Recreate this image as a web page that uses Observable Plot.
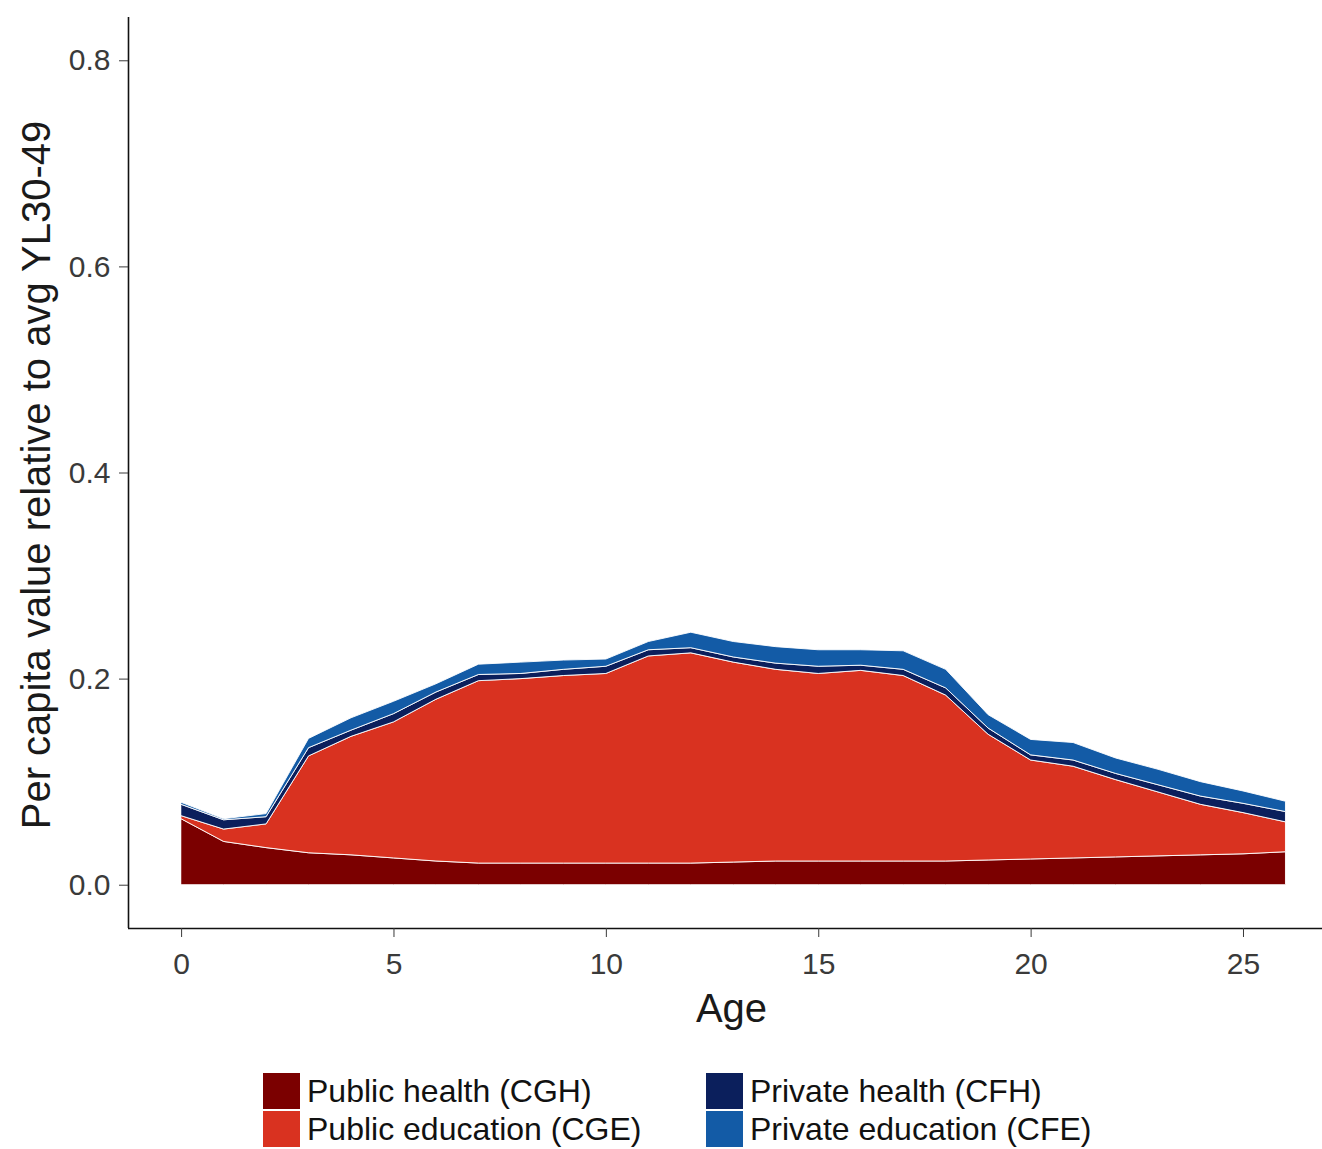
<!DOCTYPE html>
<html>
<head>
<meta charset="utf-8">
<script src="https://cdn.jsdelivr.net/npm/d3@7"></script>
<script src="https://cdn.jsdelivr.net/npm/@observablehq/plot@0.6"></script>
<style>
  html, body { margin: 0; padding: 0; background: #fff; }
  body { width: 1322px; height: 1149px; position: relative; font-family: "Liberation Sans", Arial, sans-serif; }
  #legend { position: absolute; left: 263px; top: 1073px; display: grid; grid-template-columns: 443px auto; row-gap: 2px; }
  .item { display: flex; align-items: center; height: 36px; font-size: 32px; color: #111; }
  .sw { width: 37px; height: 36px; margin-right: 7px; flex: none; }
</style>
</head>
<body>
<div id="chart"></div>
<div id="legend"></div>
<script>
// Per capita transfers by single year of age, stacked by component
const ages = [0,1,2,3,4,5,6,7,8,9,10,11,12,13,14,15,16,17,18,19,20,21,22,23,24,25,26];
const cgh = [0.064,0.042,0.036,0.031,0.029,0.026,0.023,0.021,0.021,0.021,0.021,0.021,0.021,0.022,0.023,0.023,0.023,0.023,0.023,0.024,0.025,0.026,0.027,0.028,0.029,0.030,0.032];
const cge = [0.003,0.012,0.023,0.094,0.115,0.132,0.157,0.177,0.179,0.182,0.184,0.201,0.204,0.194,0.186,0.182,0.185,0.180,0.161,0.122,0.096,0.089,0.075,0.062,0.049,0.040,0.029];
const cfh = [0.011,0.009,0.007,0.008,0.006,0.008,0.007,0.006,0.005,0.006,0.007,0.006,0.005,0.005,0.006,0.007,0.005,0.006,0.007,0.006,0.005,0.006,0.006,0.007,0.008,0.009,0.010];
const cfe = [0.002,0.001,0.003,0.009,0.012,0.012,0.008,0.010,0.011,0.009,0.007,0.008,0.015,0.015,0.016,0.016,0.015,0.018,0.018,0.013,0.015,0.017,0.015,0.015,0.014,0.012,0.010];

const seriesNames = ["Public health (CGH)", "Public education (CGE)", "Private health (CFH)", "Private education (CFE)"];
const seriesColors = ["#7b0000", "#d93220", "#0b1f5c", "#135ba6"];
const yTicks = [0, 0.2, 0.4, 0.6, 0.8];
const xTicks = [0, 5, 10, 15, 20, 25];
const xDomain = [-1.25, 26.86];
const yDomain = [-0.042, 0.842];

const columns = [cgh, cge, cfh, cfe];
const rows = [];
seriesNames.forEach((name, i) => {
  ages.forEach((a, j) => rows.push({age: a, value: columns[i][j], series: name}));
});

const W = 1322, H = 1062;
const font = '"Liberation Sans", Arial, sans-serif';

const chart = Plot.plot({
  width: W,
  height: H,
  marginLeft: 128,
  marginRight: 0,
  marginTop: 17,
  marginBottom: H - 928,
  style: {fontFamily: font, background: "#fff", overflow: "visible"},
  x: {domain: xDomain, axis: null},
  y: {domain: yDomain, axis: null},
  color: {domain: seriesNames, range: seriesColors},
  marks: [
    Plot.areaY(rows, {
      x: "age", y: "value", fill: "series", z: "series",
      order: seriesNames,
      stroke: "white", strokeWidth: 0.9
    }),
    Plot.ruleY([yDomain[0]], {stroke: "#111", strokeWidth: 1.6}),
    Plot.ruleX([xDomain[0]], {stroke: "#111", strokeWidth: 1.6}),
    Plot.axisX({ticks: xTicks, tickSize: 9, tickPadding: 15, fontSize: 30, color: "#3a3a3a", label: null, tickFormat: d3.format("d")}),
    Plot.axisY({ticks: yTicks, tickSize: 9, tickPadding: 9, fontSize: 30, color: "#3a3a3a", label: null, tickFormat: d3.format(".1f")}),
    Plot.text(["Age"], {frameAnchor: "bottom", dy: 93, dx: 6, fontSize: 40, fill: "#1a1a1a"}),
    Plot.text(["Per capita value relative to avg YL30-49"], {frameAnchor: "left", textAnchor: "middle", dx: -91, dy: 2, rotate: -90, fontSize: 40, fill: "#1a1a1a"})
  ]
});
document.getElementById("chart").appendChild(chart);

// Legend in two columns: health items on the first row, education on the second
const legend = document.getElementById("legend");
[0, 2, 1, 3].forEach(i => {
  const item = document.createElement("div");
  item.className = "item";
  const sw = document.createElement("span");
  sw.className = "sw";
  sw.style.background = seriesColors[i];
  const label = document.createElement("span");
  label.textContent = seriesNames[i];
  item.appendChild(sw);
  item.appendChild(label);
  legend.appendChild(item);
});
</script>
</body>
</html>
